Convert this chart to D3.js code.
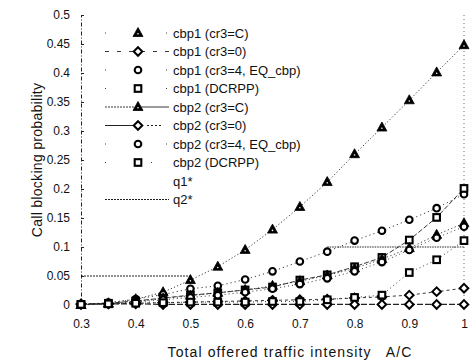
<!DOCTYPE html>
<html>
<head>
<meta charset="utf-8">
<script src="https://cdn.jsdelivr.net/npm/d3@7"></script>
<style>
  body { margin: 0; background: #fff; }
  svg { display: block; }
  text { font-family: "Liberation Sans", Arial, Helvetica, sans-serif; fill: #111; }
</style>
</head>
<body>
<svg id="chart" width="476" height="364"></svg>
<script>
// Offered load A/C on the horizontal axis
const loads = [0.3, 0.35, 0.4, 0.45, 0.5, 0.55, 0.6, 0.65, 0.7, 0.75, 0.8, 0.85, 0.9, 0.95, 1];
const xTicks = [0.3, 0.4, 0.5, 0.6, 0.7, 0.8, 0.9, 1];
const xTickLabels = ["0.3", "0.4", "0.5", "0.6", "0.7", "0.8", "0.9", "1"];
const yTicks = [0, 0.05, 0.1, 0.15, 0.2, 0.25, 0.3, 0.35, 0.4, 0.45, 0.5];
const yTickLabels = ["0", "0.05", "0.1", "0.15", "0.2", "0.25", "0.3", "0.35", "0.4", "0.45", "0.5"];

// Call blocking probabilities per class and scheme
const cbp1_C     = [0, 0.003, 0.010, 0.022, 0.043, 0.066, 0.095, 0.130, 0.169, 0.212, 0.260, 0.306, 0.353, 0.401, 0.448];
const cbp1_0     = [0.001, 0.002, 0.003, 0.004, 0.005, 0.006, 0.007, 0.008, 0.009, 0.010, 0.012, 0.014, 0.017, 0.023, 0.029];
const cbp1_EQ    = [0.001, 0.004, 0.010, 0.018, 0.028, 0.033, 0.044, 0.058, 0.075, 0.092, 0.111, 0.128, 0.147, 0.167, 0.191];
const cbp1_DCRPP = [0.001, 0.003, 0.007, 0.012, 0.017, 0.021, 0.026, 0.031, 0.043, 0.052, 0.066, 0.082, 0.112, 0.151, 0.201];
const cbp2_C     = [0, 0.002, 0.006, 0.011, 0.016, 0.021, 0.026, 0.033, 0.041, 0.051, 0.063, 0.079, 0.098, 0.121, 0.141];
const cbp2_0     = [0.002, 0.002, 0.002, 0.001, 0.001, 0.001, 0.001, 0.001, 0.001, 0.001, 0.001, 0.001, 0.001, 0.001, 0.001];
const cbp2_EQ    = [0.001, 0.002, 0.005, 0.009, 0.013, 0.017, 0.022, 0.028, 0.036, 0.046, 0.058, 0.074, 0.095, 0.116, 0.135];
const cbp2_DCRPP = [0.001, 0.002, 0.003, 0.004, 0.005, 0.005, 0.005, 0.006, 0.006, 0.009, 0.013, 0.017, 0.056, 0.078, 0.111];
// Target blocking levels
const q1 = [null, null, null, null, null, null, null, null, null, 0.1, 0.1, 0.1, 0.1, 0.1, 0.1];
const q2 = [0.05, 0.05, 0.05, 0.05, 0.05, null, null, null, null, null, null, null, null, null, null];

const seriesNames = [
  "cbp1 (cr3=C)", "cbp1 (cr3=0)", "cbp1 (cr3=4, EQ_cbp)", "cbp1 (DCRPP)",
  "cbp2 (cr3=C)", "cbp2 (cr3=0)", "cbp2 (cr3=4, EQ_cbp)", "cbp2 (DCRPP)", "q1*", "q2*"
];
const seriesValues = [cbp1_C, cbp1_0, cbp1_EQ, cbp1_DCRPP, cbp2_C, cbp2_0, cbp2_EQ, cbp2_DCRPP, q1, q2];

// Drawing style of each series: marker shape, line dashes in plot and legend
const styles = {
  "cbp1 (cr3=C)":         { marker: "triangle", dash: "1.2,2.2", legendDash: "1,60",  width: 0.9 },
  "cbp1 (cr3=0)":         { marker: "diamond",  dash: "3,3",     legendDash: "4,8",   width: 0.9 },
  "cbp1 (cr3=4, EQ_cbp)": { marker: "circle",   dash: "1.2,3",   legendDash: "1,60",  width: 0.9 },
  "cbp1 (DCRPP)":         { marker: "square",   dash: "5,2",     legendDash: "1,60",  width: 0.9 },
  "cbp2 (cr3=C)":         { marker: "triangle", dash: "1.2,2.5", legendDash: "2,1,2,1,2,1,2,1,2,1,2,1,2,1,2,1,2,1,2,1,2,1,40,0", width: 0.9 },
  "cbp2 (cr3=0)":         { marker: "diamond",  dash: "6,2",     legendDash: "36,6,2,2,2,2,2,2,2,20", width: 1.1 },
  "cbp2 (cr3=4, EQ_cbp)": { marker: "circle",   dash: "1,3",     legendDash: "1,60",  width: 0.9 },
  "cbp2 (DCRPP)":         { marker: "square",   dash: "1,3",     legendDash: "1,45",  width: 0.9 },
  "q1*":                  { marker: null,       dash: "1.5,1",   legendDash: null,    width: 1 },
  "q2*":                  { marker: null,       dash: "2,1",     legendDash: "2,1",   width: 1 }
};

const svg = d3.select("#chart");
const x = d3.scaleLinear().domain([0.3, 1]).range([81, 464]);
const y = d3.scaleLinear().domain([0, 0.5]).range([305, 15]);

// Left axis: dash-dot spine, short inward ticks
const yAxis = svg.append("g")
  .attr("transform", `translate(${x(0.3)},0)`)
  .call(d3.axisLeft(y).tickValues(yTicks)
    .tickFormat((d, i) => yTickLabels[i])
    .tickSizeInner(-3).tickSizeOuter(0).tickPadding(11));
yAxis.select(".domain").attr("stroke", "#222").attr("stroke-width", 1).attr("stroke-dasharray", "4,2,1,2");
yAxis.selectAll(".tick line").attr("stroke", "#222");
yAxis.selectAll(".tick text").attr("font-size", 12).attr("fill", "#111")
  .attr("font-family", "Liberation Sans, Arial, sans-serif");

// Bottom axis: labels only
const xAxis = svg.append("g")
  .attr("transform", `translate(0,${y(0)})`)
  .call(d3.axisBottom(x).tickValues(xTicks)
    .tickFormat((d, i) => xTickLabels[i])
    .tickSize(0).tickPadding(14));
xAxis.select(".domain").remove();
xAxis.selectAll(".tick text").attr("font-size", 12).attr("fill", "#111")
  .attr("font-family", "Liberation Sans, Arial, sans-serif");

// Right frame edge, dotted
svg.append("line")
  .attr("x1", x(1)).attr("x2", x(1))
  .attr("y1", y(0.5)).attr("y2", y(0))
  .attr("stroke", "#666").attr("stroke-width", 1).attr("stroke-dasharray", "1,3");

// Axis titles
svg.append("text")
  .attr("x", 290).attr("y", 357)
  .attr("text-anchor", "middle")
  .style("white-space", "pre")
  .attr("font-size", 14).attr("letter-spacing", "1.1px")
  .text("Total offered traffic intensity   A/C");
svg.append("text")
  .attr("transform", `translate(37,${(y(0) + y(0.5)) / 2}) rotate(-90)`)
  .attr("text-anchor", "middle").attr("dominant-baseline", "central")
  .attr("font-size", 14).attr("letter-spacing", "0.3px")
  .text("Call blocking probability");

// Marker drawing
function drawMarker(g, type, cx, cy) {
  if (type === "triangle") {
    g.append("path")
      .attr("d", `M${cx},${cy - 5.5}L${cx + 5},${cy + 3.5}L${cx - 5},${cy + 3.5}Z`)
      .attr("fill", "#000").attr("stroke", "#000").attr("stroke-width", 0.8);
    g.append("circle").attr("cx", cx).attr("cy", cy + 0.8).attr("r", 0.8).attr("fill", "#fff");
  } else if (type === "circle") {
    g.append("circle").attr("cx", cx).attr("cy", cy).attr("r", 3.3)
      .attr("fill", "#fff").attr("stroke", "#000").attr("stroke-width", 2.1);
  } else if (type === "square") {
    g.append("rect").attr("x", cx - 3.3).attr("y", cy - 3.3).attr("width", 6.6).attr("height", 6.6)
      .attr("fill", "#fff").attr("stroke", "#000").attr("stroke-width", 2.1);
  } else if (type === "diamond") {
    g.append("path")
      .attr("d", `M${cx},${cy - 4.3}L${cx + 4.3},${cy}L${cx},${cy + 4.3}L${cx - 4.3},${cy}Z`)
      .attr("fill", "#fff").attr("stroke", "#000").attr("stroke-width", 2);
  }
}

const plot = svg.append("g");
const line = d3.line()
  .defined(d => d.v !== null)
  .x(d => x(d.x)).y(d => y(d.v));

// Lines first
seriesNames.forEach((name, si) => {
  const st = styles[name];
  const pts = loads.map((l, i) => ({ x: l, v: seriesValues[si][i] }));
  plot.append("path")
    .datum(pts)
    .attr("d", line)
    .attr("fill", "none")
    .attr("stroke", "#222")
    .attr("stroke-width", st.width)
    .attr("stroke-dasharray", st.dash);
});

// Markers on top
const markerLayer = svg.append("g");
seriesNames.forEach((name, si) => {
  const st = styles[name];
  if (!st.marker) return;
  loads.forEach((l, i) => {
    const v = seriesValues[si][i];
    if (v === null) return;
    drawMarker(markerLayer, st.marker, x(l), y(v));
  });
});

// Legend
const legend = svg.append("g");
seriesNames.forEach((name, i) => {
  const st = styles[name];
  const ry = 33 + i * 18.5;
  if (st.legendDash) {
    legend.append("line")
      .attr("x1", 105).attr("x2", 169).attr("y1", ry).attr("y2", ry)
      .attr("stroke", "#222").attr("stroke-width", st.width)
      .attr("stroke-dasharray", st.legendDash);
  }
  if (st.marker) drawMarker(legend, st.marker, 138, ry);
  legend.append("text")
    .attr("x", 173).attr("y", ry)
    .attr("dominant-baseline", "central")
    .attr("font-size", 13)
    .text(name);
});
</script>
</body>
</html>
